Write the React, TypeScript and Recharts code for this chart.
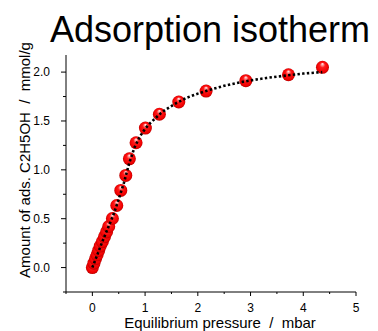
import React from 'react';
import { ComposedChart, Scatter, XAxis, YAxis, Customized } from 'recharts';

// measured points (pressure in mbar, amount in mmol/g)
const pressure = [0, 0.03, 0.06, 0.09, 0.12, 0.15, 0.19, 0.23, 0.27, 0.31, 0.38, 0.463, 0.539, 0.634, 0.702, 0.829, 1.006, 1.271, 1.639, 2.157, 2.911, 3.719, 4.364];
const amount = [0, 0.045, 0.09, 0.13, 0.175, 0.22, 0.265, 0.315, 0.365, 0.42, 0.502, 0.635, 0.789, 0.943, 1.113, 1.277, 1.427, 1.569, 1.694, 1.806, 1.912, 1.973, 2.049];

// dotted fit curve
const fitP = [0, 0.1, 0.2, 0.3, 0.4, 0.5, 0.6, 0.7, 0.8, 0.9, 1.0, 1.1, 1.2, 1.3, 1.4, 1.6, 1.8, 2.0, 2.2, 2.5, 2.8, 3.0, 3.3, 3.6, 4.0, 4.36];
const fitV = [0, 0.14, 0.28, 0.41, 0.54, 0.7, 0.87, 1.07, 1.23, 1.34, 1.42, 1.48, 1.53, 1.58, 1.62, 1.685, 1.74, 1.78, 1.815, 1.86, 1.895, 1.915, 1.94, 1.96, 1.985, 2.0];

const xMajor = [0, 1, 2, 3, 4, 5];
const xTicks = [-0.5, 0, 0.5, 1, 1.5, 2, 2.5, 3, 3.5, 4, 4.5, 5];
const yMajor = [0, 0.5, 1, 1.5, 2];
const yTicks = [-0.25, 0, 0.25, 0.5, 0.75, 1, 1.25, 1.5, 1.75, 2];

const points = pressure.map((p, i) => ({ p, v: amount[i] }));
const fit = fitP.map((p, i) => ({ p, v: fitV[i] }));

const FONT = 'Arial, "Liberation Sans", sans-serif';

const XTick = (props: any) => {
  const { x, y, payload } = props;
  const major = xMajor.includes(payload.value);
  return (
    <g>
      <line x1={x} x2={x} y1={y} y2={y + (major ? 4 : 2)} stroke="#000" strokeWidth={1} />
      {major && (
        <text x={x} y={y + 11} dy="0.71em" textAnchor="middle" fontSize={12} fontFamily={FONT} fill="#000">
          {payload.value}
        </text>
      )}
    </g>
  );
};

const YTick = (props: any) => {
  const { x, y, payload } = props;
  const major = yMajor.includes(payload.value);
  return (
    <g>
      <line x1={x} x2={x - (major ? 5 : 3)} y1={y} y2={y} stroke="#000" strokeWidth={1} />
      {major && (
        <text x={x - 16} y={y} dy="0.355em" textAnchor="end" fontSize={12} fontFamily={FONT} fill="#000">
          {payload.value.toFixed(1)}
        </text>
      )}
    </g>
  );
};

const Ball = (props: any) => {
  const { cx, cy } = props;
  return <circle cx={cx} cy={cy} r={6.5} fill="url(#ball)" />;
};

const NoDot = () => <g />;

const Labels = () => (
  <g fontFamily={FONT} fill="#000">
    <text x={210} y={42} fontSize={36} textAnchor="middle">Adsorption isotherm</text>
    <text x={220} y={328} fontSize={15} textAnchor="middle" style={{ whiteSpace: 'pre' }}>
      {'Equilibrium pressure  /  mbar'}
    </text>
    <text transform="translate(30,160) rotate(-90)" fontSize={15} textAnchor="middle" style={{ whiteSpace: 'pre' }}>
      {'Amount of ads. C2H5OH  /  mmol/g'}
    </text>
  </g>
);

export default function App() {
  return (
    <div style={{ position: 'absolute', left: 0, top: 0, background: '#fff' }}>
      <ComposedChart width={378} height={331} margin={{ top: 55, right: 22, bottom: 0, left: 20 }}>
        <defs>
          <radialGradient id="ball" cx="50%" cy="50%" r="50%" fx="50%" fy="22%">
            <stop offset="0%" stopColor="#fff4f4" />
            <stop offset="18%" stopColor="#ff9090" />
            <stop offset="40%" stopColor="#ff1a1a" />
            <stop offset="85%" stopColor="#f00000" />
            <stop offset="100%" stopColor="#b80000" />
          </radialGradient>
        </defs>
        <XAxis
          type="number"
          dataKey="p"
          domain={[-0.5, 5]}
          ticks={xTicks}
          interval={0}
          height={39}
          tickSize={0}
          tickMargin={0}
          tickLine={false}
          tick={<XTick />}
          axisLine={{ stroke: '#000', strokeWidth: 1 }}
          allowDataOverflow
        />
        <YAxis
          type="number"
          dataKey="v"
          domain={[-0.25, 2.175]}
          ticks={yTicks}
          interval={0}
          width={46}
          tickSize={0}
          tickMargin={0}
          tickLine={false}
          tick={<YTick />}
          axisLine={{ stroke: '#000', strokeWidth: 1 }}
          allowDataOverflow
        />
        <Scatter data={points} dataKey="v" shape={<Ball />} isAnimationActive={false} />
        <Scatter
          data={fit}
          dataKey="v"
          shape={<NoDot />}
          line={{ stroke: '#000', strokeWidth: 2.6, strokeDasharray: '2.4 2.3' }}
          lineType="joint"
          isAnimationActive={false}
        />
        <Customized component={Labels} />
      </ComposedChart>
    </div>
  );
}
